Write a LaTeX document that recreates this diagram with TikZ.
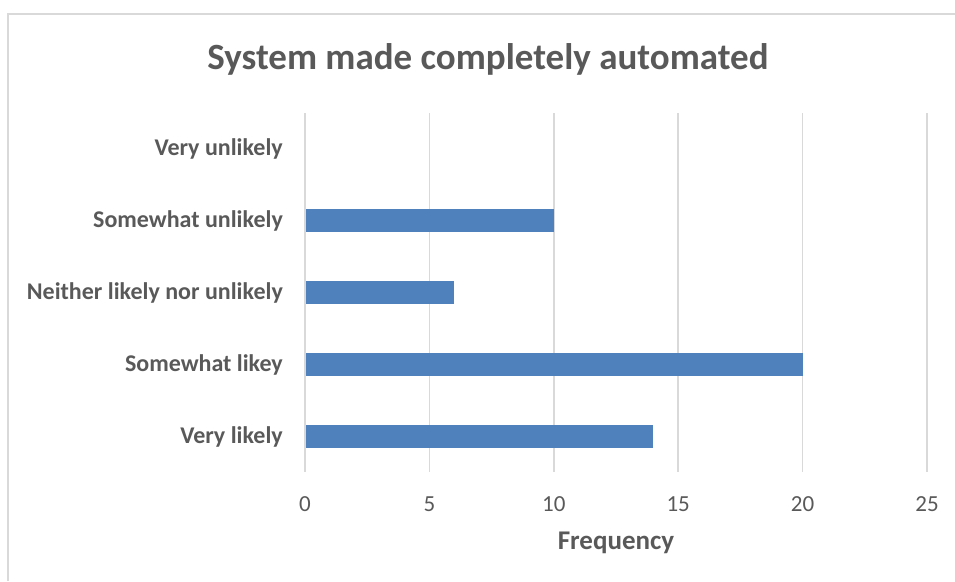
\documentclass[tikz,border=0pt]{standalone}
\usepackage{fontspec}
\setmainfont{Carlito}
\definecolor{barblue}{HTML}{4F81BD}
\definecolor{gridgray}{HTML}{D9D9D9}
\definecolor{textgray}{HTML}{595959}
\begin{document}
\begin{tikzpicture}[x=1pt,y=-1pt,
  catlabel/.style={anchor=east,font=\fontsize{24}{28}\selectfont\bfseries,text=textgray,inner sep=0pt},
  ticklabel/.style={anchor=center,font=\fontsize{23}{27}\selectfont,text=textgray,inner sep=0pt},
  bar/.style={fill=barblue,draw=none},
  gridline/.style={draw=gridgray,line width=1.5pt}]
\useasboundingbox (0,0) rectangle (955,581);
% chart frame
\draw[gridgray,line width=1.2pt] (8,581) -- (8,14) -- (955,14);
% title
\node[font=\fontsize{37}{44}\selectfont\bfseries,text=textgray,inner sep=0pt] (title) at (488,59) {System made completely automated};
% vertical gridlines and tick labels
\foreach \v in {0,5,10,15,20,25}{
  \draw[gridline] (305+24.88*\v,113) -- (305+24.88*\v,472);
  \node[ticklabel] (t\v) at (305+24.88*\v,504) {\v};
}
% bars
\foreach \val/\y/\name/\txt in {0/149/vu/Very unlikely,10/220.5/su/Somewhat unlikely,6/292.5/ne/Neither likely nor unlikely,20/364.5/sl/Somewhat likey,14/436.5/vl/Very likely}{
  \node[catlabel] (l\name) at (283,\y) {\txt};
  \ifnum\val>0
    \fill[barblue] (306,\y-11.3) rectangle (305+24.88*\val,\y+11.3);
  \fi
}
% axis title
\node[font=\fontsize{27}{32}\selectfont\bfseries,text=textgray,inner sep=0pt] (xtitle) at (616,543) {Frequency};
\end{tikzpicture}
\end{document}
